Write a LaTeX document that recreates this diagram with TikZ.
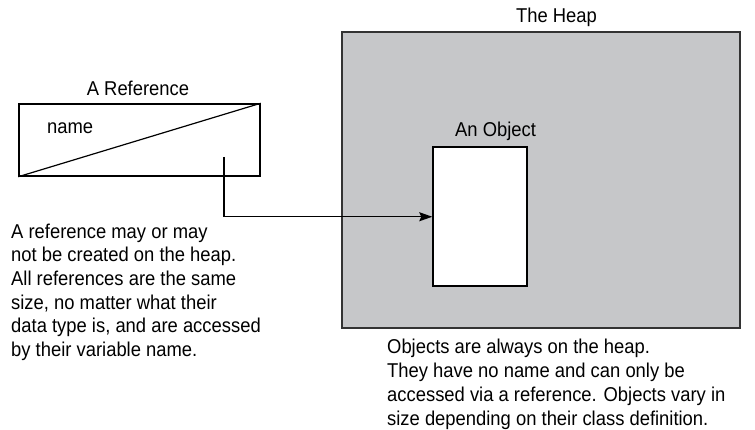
\documentclass[tikz,border=0pt]{standalone}
\usepackage{fontspec}
\setmainfont[FakeStretch=0.92]{Liberation Sans}
\usetikzlibrary{arrows.meta}
\definecolor{heapgray}{RGB}{198,199,201}

\begin{document}
\begin{tikzpicture}[x=1pt,y=-1pt,
	txt/.style={font=\fontsize{20}{23.7}\selectfont,inner sep=0pt},
	box/.style={draw,line width=1.5pt,inner sep=0pt},
	ptr/.style={line width=1.5pt,-{Stealth[length=13pt,width=9pt,inset=2pt]}}]

	\useasboundingbox (0,0) rectangle (755,430);

	% the heap
	\node[box,draw=black!80,fill=heapgray,minimum width=398pt,minimum height=296pt] (heap) at (541,180) {};
	\node[txt,anchor=base] (heaplabel) at (556.5,23) {The Heap};

	% the object
	\node[box,fill=white,minimum width=94pt,minimum height=139pt] (obj) at (480,216.75) {};
	\node[txt,anchor=base west] (objlabel) at (455,136.5) {An Object};

	% the reference
	\node[box,minimum width=241pt,minimum height=72pt] (ref) at (139.5,140) {};
	\draw[line width=1.2pt] (ref.south west) -- (ref.north east);
	\node[txt,anchor=base] (reflabel) at (138,96) {A Reference};
	\node[txt,anchor=base west] (refname) at (47,134) {name};

	% pointer
	\coordinate (refptr) at (224,157);
	\draw[ptr] (refptr) |- (obj.west);

	% notes (base = last line)
	\node[txt,anchor=base west,align=left] (refnote) at (11,356.5)
		{A reference may or may\\not be created on the heap.\\All references are the same\\size, no matter what their\\data type is, and are accessed\\by their variable name.};
	\node[txt,anchor=base west,align=left] (objnote) at (387,425)
		{Objects are always on the heap.\\They have no name and can only be\\accessed via a reference. Objects vary in\\size depending on their class definition.};

\end{tikzpicture}
\end{document}
